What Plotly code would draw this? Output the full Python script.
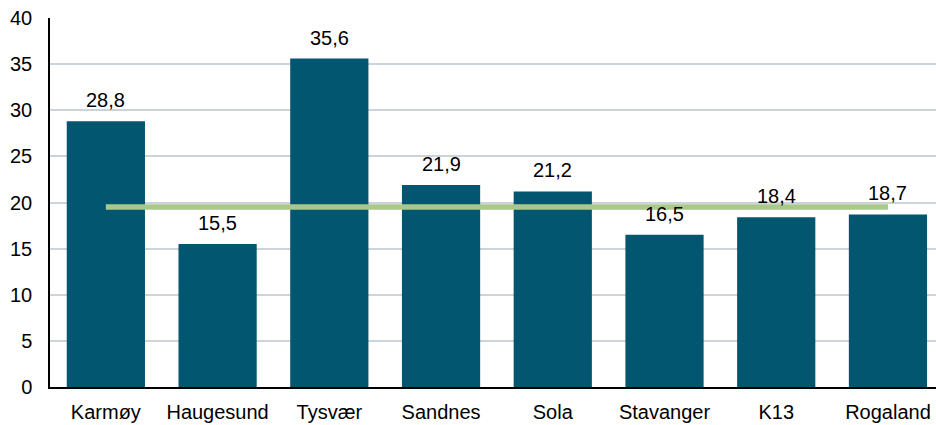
import plotly.graph_objects as go

categories = ["Karmøy", "Haugesund", "Tysvær", "Sandnes", "Sola", "Stavanger", "K13", "Rogaland"]
values = [28.8, 15.5, 35.6, 21.9, 21.2, 16.5, 18.4, 18.7]
avg_line = [19.5] * len(categories)
y_ticks = [0, 5, 10, 15, 20, 25, 30, 35, 40]

BAR = "#02566F"
GREEN = "#A9C98A"
FONT = "Liberation Sans, Arial, sans-serif"
FS = 20

fig = go.Figure()
fig.add_trace(go.Bar(x=categories, y=values, marker_color=BAR, width=0.7,
                     marker_line_width=0, hoverinfo="skip"))
fig.add_trace(go.Scatter(x=categories, y=avg_line, mode="lines",
                         line=dict(color=GREEN, width=5.5), hoverinfo="skip"))

for c, v in zip(categories, values):
    fig.add_annotation(x=c, y=v, text=f"{v:.1f}".replace(".", ","), showarrow=False,
                       yanchor="bottom", yshift=8, font=dict(size=FS, color="#000", family=FONT))

fig.update_layout(
    width=936, height=425,
    margin=dict(l=50, r=0, t=18, b=38),
    paper_bgcolor="white", plot_bgcolor="white",
    showlegend=False, bargap=0.3,
    separators=",.",
    font=dict(family=FONT, size=FS, color="#000"),
)
fig.update_xaxes(range=[-0.5, 7.43], showline=True, linecolor="#000", linewidth=1.5,
                 ticks="outside", ticklen=6, tickcolor="rgba(0,0,0,0)",
                 tickfont=dict(size=FS, family=FONT), showgrid=False)
fig.update_yaxes(range=[0, 40], tickvals=y_ticks, showline=True, linecolor="#000", linewidth=1.5,
                 gridcolor="#CBD3DB", gridwidth=1.5, ticks="outside", ticklen=12,
                 tickcolor="rgba(0,0,0,0)", tickfont=dict(size=FS, family=FONT), zeroline=False)

fig.write_html("out.html", config={"displayModeBar": False},
               post_script="document.body.style.margin='0';document.body.style.overflow='hidden';")
